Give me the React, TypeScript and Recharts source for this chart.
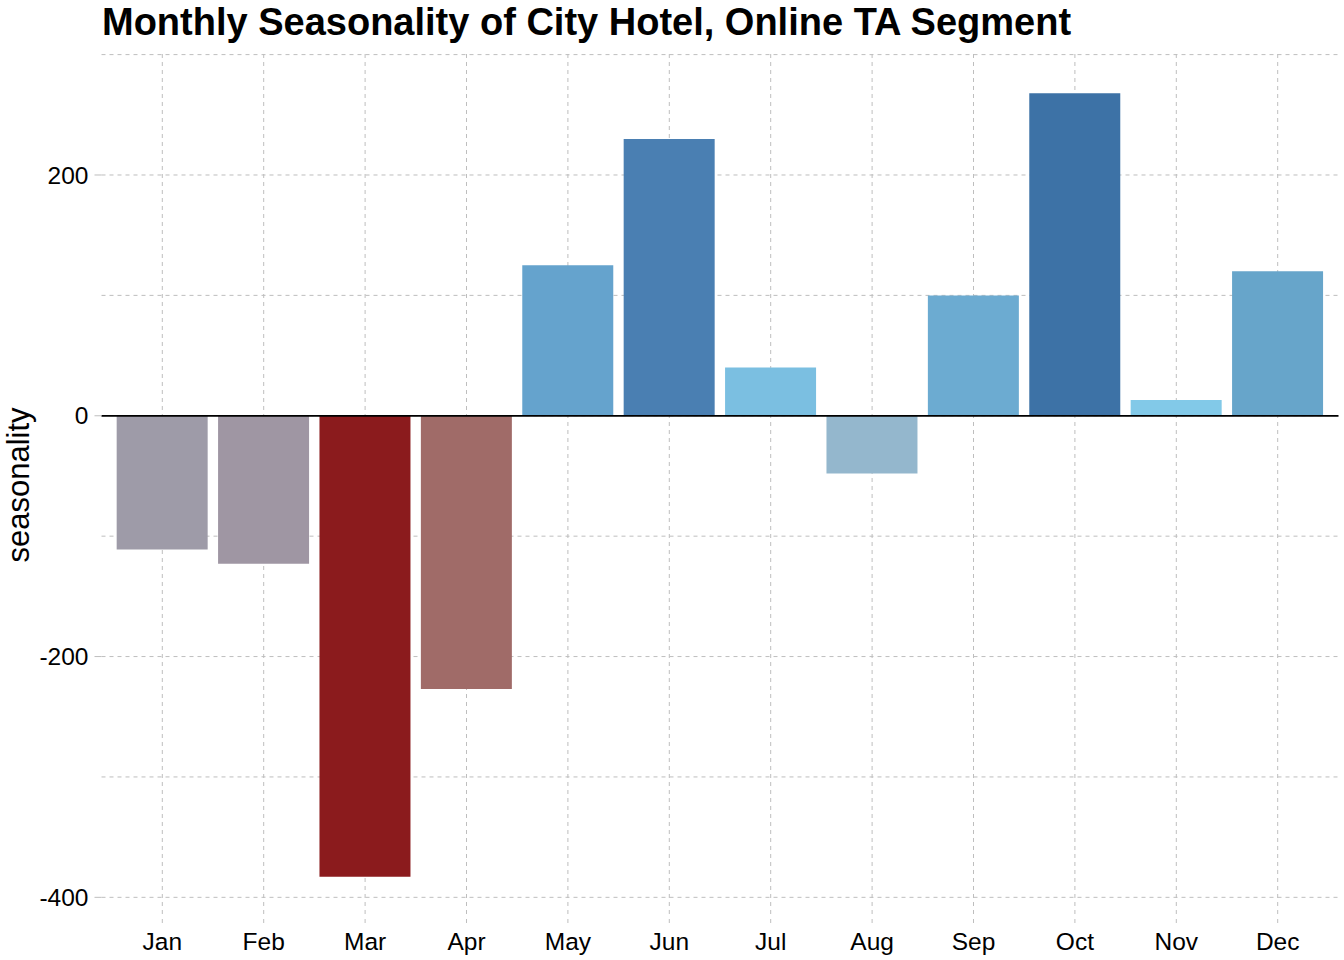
import React from "react";
import {
	Bar,
	BarChart,
	CartesianGrid,
	Cell,
	ReferenceLine,
	XAxis,
	YAxis,
} from "recharts";

const months = ["Jan", "Feb", "Mar", "Apr", "May", "Jun", "Jul", "Aug", "Sep", "Oct", "Nov", "Dec"];
const seasonality = [-111, -123, -383, -227, 125, 230, 40, -48, 100, 268, 13, 120];
const barColors = [
	"#9e9ba8",
	"#9f96a3",
	"#8b1b1d",
	"#a06b68",
	"#65a3cd",
	"#4a7fb2",
	"#7bbfe1",
	"#94b7cd",
	"#6cabd1",
	"#3d72a6",
	"#82c9e8",
	"#67a5ca",
];
const yTicks = [-400, -200, 0, 200];
const gridValues = [-400, -300, -200, -100, 0, 100, 200, 300];

const font = "'Liberation Sans', Arial, sans-serif";
const gridColor = "#bebebe";
const tickStyle = { fontFamily: font, fontSize: 24.5, fill: "#000" };

const chartData = months.map((month, i) => ({ month, seasonality: seasonality[i] }));

export default function App() {
	return (
		<div style={{ position: "relative", width: 1344, height: 960 }}>
			<style>{"body{margin:0}"}</style>
			<BarChart
				width={1344}
				height={960}
				data={chartData}
				margin={{ top: 54, right: 5.5, left: 0, bottom: 0 }}
				barCategoryGap="5%"
			>
				<CartesianGrid
					stroke={gridColor}
					strokeDasharray="4 4"
					horizontalValues={gridValues}
					verticalValues={months}
				/>
				<XAxis
					dataKey="month"
					height={44}
					padding={{ left: 10.1, right: 10.1 }}
					axisLine={false}
					tickSize={7}
					tickMargin={10}
					tickLine={{ stroke: gridColor, strokeDasharray: "4 4" }}
					tick={tickStyle}
					interval={0}
				/>
				<YAxis
					type="number"
					domain={[-415.5, 300.5]}
					ticks={yTicks}
					width={101.5}
					axisLine={false}
					tickSize={7}
					tickMargin={6}
					tickLine={{ stroke: gridColor }}
					tick={tickStyle}
					interval={0}
				/>
				<Bar dataKey="seasonality" isAnimationActive={false}>
					{chartData.map((d, i) => (
						<Cell key={d.month} fill={barColors[i]} />
					))}
				</Bar>
				<ReferenceLine y={0} stroke="#000" strokeWidth={1.8} />
			</BarChart>
			<svg
				width={1344}
				height={960}
				style={{ position: "absolute", left: 0, top: 0, pointerEvents: "none" }}
			>
				<text x={102} y={34.5} fontFamily={font} fontSize={38} fontWeight="bold" fill="#000">
					Monthly Seasonality of City Hotel, Online TA Segment
				</text>
				<text
					x={29}
					y={485}
					transform="rotate(-90, 29, 485)"
					textAnchor="middle"
					fontFamily={font}
					fontSize={31}
					fill="#000"
				>
					seasonality
				</text>
			</svg>
		</div>
	);
}
